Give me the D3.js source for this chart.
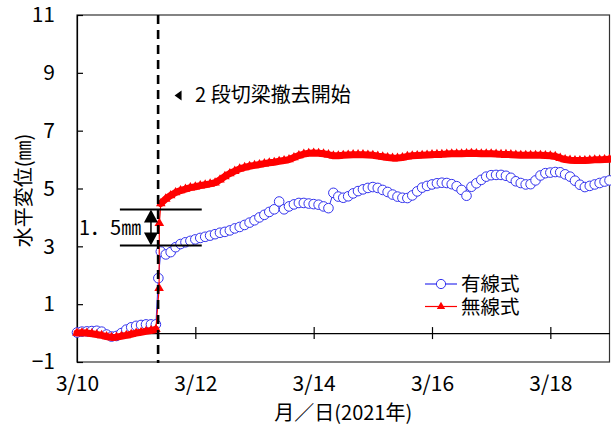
<!DOCTYPE html>
<html><head><meta charset="utf-8">
<script src="https://cdn.jsdelivr.net/npm/d3@7"></script>
<style>
html,body{margin:0;padding:0;background:#fff;}
svg{display:block;font-family:"Noto Sans CJK JP","Noto Sans",sans-serif;}
</style></head>
<body>
<svg id="chart" width="611" height="427"></svg>
<script>
// ---- data (hours from 3/10 00:00, sampled every 2 h) ----
const sampleHours = 2;
const preStartHour = 0;
const postStartHour = 34;
const eventHour = 32.9;

const seriesNames = ["有線式", "無線式"];

const wiredPre = [0.02,0.05,0.06,0.07,0.08,0.05,-0.05,-0.12,-0.10,0.00,0.12,0.20,0.25,0.28,0.30,0.30,0.30];
const wiredJump = [[33.0, 1.9]];
const wiredPost = [
 2.82,2.72,2.80,2.97,3.08,3.14,3.19,3.24,3.29,3.33,
 3.37,3.42,3.47,3.50,3.55,3.62,3.67,3.74,3.82,3.90,
 4.00,4.09,4.19,4.28,4.55,4.28,4.38,4.45,4.50,4.50,
 4.48,4.46,4.44,4.38,4.32,4.85,4.72,4.68,4.73,4.83,
 4.91,4.97,5.02,5.05,5.02,4.95,4.88,4.79,4.72,4.68,
 4.67,4.76,4.90,5.03,5.09,5.14,5.18,5.20,5.19,5.15,
 5.08,4.95,4.75,5.06,5.18,5.30,5.41,5.46,5.47,5.47,
 5.44,5.37,5.25,5.19,5.14,5.15,5.28,5.45,5.53,5.55,
 5.57,5.56,5.49,5.41,5.27,5.13,5.05,5.09,5.14,5.19,
 5.24,5.28];

const wirelessPre = [0.00,0.01,0.00,-0.02,-0.05,-0.08,-0.12,-0.15,-0.14,-0.11,-0.08,-0.04,0.00,0.03,0.06,0.09,0.13];
const wirelessJump = [[33.3, 1.55],[33.4, 3.8]];
const wirelessPost = [
 4.48,4.64,4.76,4.86,4.93,4.98,5.03,5.06,5.10,5.13,
 5.16,5.20,5.30,5.42,5.52,5.60,5.68,5.73,5.77,5.80,
 5.83,5.86,5.89,5.91,5.94,5.97,6.00,6.07,6.14,6.19,
 6.22,6.23,6.22,6.20,6.17,6.13,6.13,6.15,6.16,6.17,
 6.17,6.17,6.16,6.15,6.12,6.10,6.07,6.05,6.05,6.07,
 6.11,6.13,6.14,6.15,6.16,6.17,6.18,6.18,6.19,6.20,
 6.20,6.20,6.21,6.22,6.21,6.20,6.20,6.20,6.19,6.18,
 6.18,6.17,6.16,6.15,6.15,6.15,6.15,6.15,6.14,6.13,
 6.11,6.05,6.00,5.98,5.97,5.97,5.97,5.98,5.99,5.99,
 6.00,6.01];

const xTickHours = [0, 48, 96, 144, 192];
const xTickLabels = ["3/10", "3/12", "3/14", "3/16", "3/18"];
const yTicks = [-1, 1, 3, 5, 7, 9, 11];
const yTickLabels = ["\u22121", "1", "3", "5", "7", "9", "11"];

const bracketValues = [4.27, 3.03];
const bracketLabel = "1\uFF0E5\u339C";
const eventLabel = "2 段切梁撤去開始";
const xTitle = "月\uFF0F日(2021年)";
const yTitle = "水平変位(\u339C)";

// ---- build ----
const toPts = (vals, start) => vals.map((v, i) => [start + i * sampleHours, v]);
const wiredPreP = toPts(wiredPre, preStartHour), wiredPostP = toPts(wiredPost, postStartHour);
const wlPreP = toPts(wirelessPre, preStartHour), wlPostP = toPts(wirelessPost, postStartHour);
const wired = wiredPreP.concat(wiredJump, wiredPostP);
const wireless = wlPreP.concat(wirelessJump, wlPostP);

const svg = d3.select("#chart");
const L = 77, R = 609.5, T = 15, B = 362;
const x = d3.scaleLinear().domain([0, 216]).range([L, R]);
const y = d3.scaleLinear().domain([-1, 11]).range([B, T]);

// frame
svg.append("rect").attr("x", L).attr("y", T).attr("width", R - L).attr("height", B - T)
  .attr("fill", "none").attr("stroke", "#333").attr("stroke-width", 1.2);

// y axis
const yAxis = d3.axisLeft(y).tickValues(yTicks).tickFormat((d, i) => yTickLabels[i])
  .tickSizeInner(-6).tickSizeOuter(0).tickPadding(22);
const gy = svg.append("g").attr("transform", `translate(${L},0)`).call(yAxis);
gy.select(".domain").attr("stroke", "#000").attr("stroke-width", 1.2);
gy.selectAll(".tick line").attr("stroke", "#000").attr("stroke-width", 1.2);
gy.selectAll(".tick text").attr("font-size", 21).attr("fill", "#000")
  .attr("font-family", "'Noto Sans CJK JP', sans-serif");

// x zero line with crossing ticks
const xZero = d3.axisBottom(x).tickValues(xTickHours.slice(1)).tickFormat("").tickSizeOuter(0).tickSizeInner(5);
const gz = svg.append("g").attr("transform", `translate(0,${y(0)})`).call(xZero);
gz.select(".domain").attr("stroke", "#000").attr("stroke-width", 1.2);
gz.selectAll(".tick line").attr("y1", -6).attr("y2", 6).attr("stroke", "#000").attr("stroke-width", 1.2);

// x labels at bottom
const xLab = d3.axisBottom(x).tickValues(xTickHours).tickFormat((d, i) => xTickLabels[i])
  .tickSizeInner(0).tickSizeOuter(0).tickPadding(14);
const gx = svg.append("g").attr("transform", `translate(0,${B})`).call(xLab);
gx.select(".domain").remove();
gx.selectAll(".tick text").attr("font-size", 21).attr("fill", "#000")
  .attr("font-family", "'Noto Sans CJK JP', sans-serif");

// axis titles
svg.append("text").attr("x", (L + R) / 2).attr("y", 420).attr("text-anchor", "middle")
  .attr("font-size", 20).attr("fill", "#000").text(xTitle);
svg.append("text").attr("transform", `translate(31,${(T + B) / 2 + 2}) rotate(-90)`)
  .attr("text-anchor", "middle").attr("font-size", 20).attr("fill", "#000").text(yTitle);

// wired series (blue circles)
const line = d3.line().x(d => x(d[0])).y(d => y(d[1]));
const blue = "#3333ee";
svg.append("path").datum(wired).attr("d", line).attr("fill", "none").attr("stroke", blue).attr("stroke-width", 1);
svg.append("g").selectAll("circle").data(wired).join("circle")
  .attr("cx", d => x(d[0])).attr("cy", d => y(d[1])).attr("r", 4.8)
  .attr("fill", "#fff").attr("stroke", blue).attr("stroke-width", 1);

// wireless series (red triangles, dense band)
const red = "#ff0000";
svg.append("path").datum(wireless).attr("d", line).attr("fill", "none").attr("stroke", red).attr("stroke-width", 1.2);
[wlPreP, wlPostP].forEach(seg => {
  svg.append("path").datum(seg).attr("d", line).attr("fill", "none").attr("stroke", red)
    .attr("stroke-width", 7).attr("stroke-linejoin", "round").attr("stroke-linecap", "round");
});
const tri = d3.symbol().type(d3.symbolTriangle).size(40);
svg.append("g").selectAll("path").data(wireless).join("path")
  .attr("d", tri).attr("transform", d => `translate(${x(d[0])},${y(d[1])})`).attr("fill", red);

// event dashed line
svg.append("line").attr("x1", x(eventHour)).attr("x2", x(eventHour)).attr("y1", T).attr("y2", B + 1)
  .attr("stroke", "#000").attr("stroke-width", 2.6).attr("stroke-dasharray", "9,6");

// event annotation
const annY = y(8.22);
const annX = x(41.2);
svg.append("path").attr("d", `M${annX - 4},${annY} L${annX + 3},${annY - 5} L${annX + 3},${annY + 5} Z`).attr("fill", "#000");
svg.append("text").attr("x", x(47.9)).attr("y", annY + 7).attr("font-size", 20).attr("fill", "#000").text(eventLabel);

// bracket
const bx1 = x(17.4), bx2 = x(50.6);
bracketValues.forEach(v => {
  svg.append("line").attr("x1", bx1).attr("x2", bx2).attr("y1", y(v)).attr("y2", y(v))
    .attr("stroke", "#000").attr("stroke-width", 2);
});
const ax = x(30.0), yTop = y(bracketValues[0]), yBot = y(bracketValues[1]);
svg.append("line").attr("x1", ax).attr("x2", ax).attr("y1", yTop + 6).attr("y2", yBot - 6).attr("stroke", "#000").attr("stroke-width", 1.5);
svg.append("path").attr("d", `M${ax},${yTop} L${ax - 7},${yTop + 13} L${ax + 7},${yTop + 13} Z`).attr("fill", "#000");
svg.append("path").attr("d", `M${ax},${yBot} L${ax - 7},${yBot - 13} L${ax + 7},${yBot - 13} Z`).attr("fill", "#000");
svg.append("text").attr("x", 79).attr("y", (yTop + yBot) / 2 + 7).attr("font-size", 20).attr("fill", "#000").text(bracketLabel);

// legend
const lg = svg.append("g");
const legendRows = [
  {name: seriesNames[0], color: blue, kind: "circle", yy: 284},
  {name: seriesNames[1], color: red, kind: "tri", yy: 306.5}
];
const triLegend = d3.symbol().type(d3.symbolTriangle).size(30);
legendRows.forEach(r => {
  lg.append("line").attr("x1", 425).attr("x2", 457).attr("y1", r.yy).attr("y2", r.yy)
    .attr("stroke", r.color).attr("stroke-width", 1.2);
  if (r.kind === "circle") {
    lg.append("circle").attr("cx", 441).attr("cy", r.yy).attr("r", 4.6).attr("fill", "#fff").attr("stroke", r.color);
  } else {
    lg.append("path").attr("d", triLegend).attr("transform", `translate(441,${r.yy})`).attr("fill", r.color);
  }
  lg.append("text").attr("x", 461).attr("y", r.yy + 7).attr("font-size", 19.5).attr("fill", "#000").text(r.name);
});
</script>
</body></html>
